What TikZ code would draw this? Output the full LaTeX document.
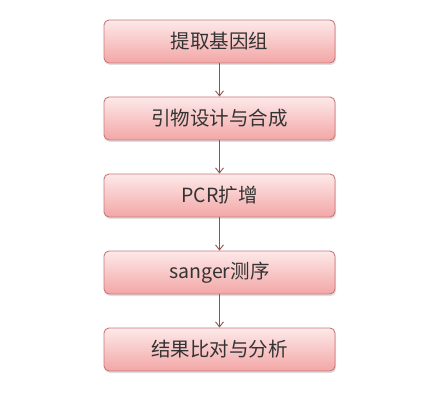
\documentclass[tikz,border=0pt]{standalone}
\usepackage{fontspec}
\newfontfamily\cjk{Noto Sans CJK SC}
\usetikzlibrary{shadows,arrows.meta}
\definecolor{boxborder}{HTML}{C9787A}
\definecolor{boxtop}{HTML}{FDE9E9}
\definecolor{boxbot}{HTML}{F3A6A6}
\definecolor{arrowc}{HTML}{8E5050}
\tikzset{
  stepbox/.style={draw=boxborder, line width=0.9pt, rounded corners=5pt,
    top color=boxtop, bottom color=boxbot, minimum width=231pt, minimum height=43pt,
    font=\cjk\fontsize{19.5}{21}\selectfont, text=black!80,
    drop shadow={shadow xshift=1pt, shadow yshift=-2pt, fill=black!25}},
  flow/.style={draw=arrowc, line width=0.9pt, -{Straight Barb[length=5pt,width=8pt]}}
}
\begin{document}
\begin{tikzpicture}[x=1pt,y=1pt]
\useasboundingbox (0,0) rectangle (434,413);
\node[stepbox] (a) at (219.5,371.5) {提取基因组};
\node[stepbox] (b) at (219.5,294.5) {引物设计与合成};
\node[stepbox] (c) at (219.5,217.5) {PCR扩增};
\node[stepbox] (d) at (219.5,140.5) {sanger测序};
\node[stepbox] (e) at (219.5,63.5) {结果比对与分析};
\draw[flow] (a) -- (b);
\draw[flow] (b) -- (c);
\draw[flow] (c) -- (d);
\draw[flow] (d) -- (e);
\end{tikzpicture}
\end{document}
